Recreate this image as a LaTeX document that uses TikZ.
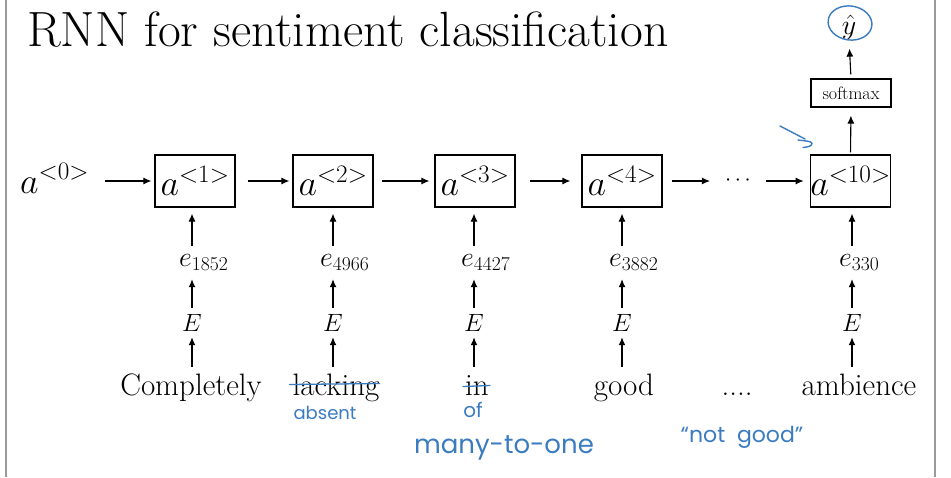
\RequirePackage{fix-cm}
\documentclass[tikz,border=0pt]{standalone}
\usepackage{fontspec}
\newfontfamily\handfont{Poppins}
\usetikzlibrary{arrows.meta}
\definecolor{ink}{HTML}{3B7CC0}
\definecolor{frameline}{HTML}{9A9A9A}

\begin{document}
\begin{tikzpicture}[x=1pt,y=1pt,
  arr/.style={-{Latex[length=8pt,width=7pt]}, line width=1.1pt},
  cell/.style={draw, line width=1.2pt, minimum width=80pt, minimum height=52pt, inner sep=0pt},
  emb/.style={font=\fontsize{28}{32}\selectfont, inner sep=0pt, anchor=base west, text height=12pt, text depth=7pt},
  mat/.style={font=\fontsize{25}{29}\selectfont, inner sep=0pt},
  word/.style={font=\fontsize{31}{35}\selectfont, inner sep=0pt, anchor=base, text height=21pt, text depth=6pt},
  hand/.style={text=ink, font=\handfont\fontsize{18}{22}\selectfont, inner sep=0pt},
  stroke/.style={draw=ink, line width=1.4pt, line cap=round, line join=round}]

% canvas and slide edges
\fill[white] (0,0) rectangle (951,-477);
\useasboundingbox (0,0) rectangle (951,-477);
\draw[frameline, line width=2pt] (6,0) -- (6,-477);
\draw[frameline, line width=2pt] (935,0) -- (935,-477);

% title
\node[anchor=base west, inner sep=0pt, font=\fontsize{49.5}{54}\selectfont] (title) at (27,-46) {RNN for sentiment classification};

% recurrent cells
\node[anchor=base west, inner sep=0pt, font=\fontsize{36}{40}\selectfont] (a0) at (20,-193) {$a^{<0>}$};
\foreach \n/\x in {1/195,2/333,3/475,4/622,10/850.5}
  \node[cell] (b\n) at (\x,-181) {\fontsize{36}{40}\selectfont$a^{<\n>}$};
\node[inner sep=0pt, font=\fontsize{22}{26}\selectfont] (dots) at (738,-181) {$\cdots$};

\draw[arr, shorten <=16pt, shorten >=3pt] (a0.east |- b1.west) -- (b1.west);
\draw[arr, shorten <=12pt, shorten >=3pt] (b1.east) -- (b2.west);
\draw[arr, shorten <=8pt, shorten >=5pt] (b2.east) -- (b3.west);
\draw[arr, shorten <=14pt, shorten >=11pt] (b3.east) -- (b4.west);
\draw[arr, shorten <=9pt, shorten >=15pt] (b4.east) -- (dots.west |- b4.east);
\draw[arr, shorten <=15pt, shorten >=6pt] (dots.east |- b10.west) -- (b10.west);

% inputs: word -> E -> embedding -> cell
\foreach \n/\c/\s/\w/\wx in {1/192/1852/Completely/191, 2/333/4966/lacking/336, 3/474/4427/in/477, 4/622/3882/good/624, 10/852/330/ambience/859} {
  \node[mat] (E\n) at (\c,-322.5) {$E$};
  \node[emb] (e\n) at (\c-13,-266) {$e_{\s}$};
  \node[word] (w\n) at (\wx,-395) {\w};
  \draw[arr, shorten <=7pt, shorten >=6pt] (w\n.north -| E\n) -- (E\n.south);
  \draw[arr, shorten <=6pt, shorten >=6pt] (E\n.north) -- (e\n.south -| E\n);
  \draw[arr, shorten <=8pt, shorten >=6pt] (e\n.north -| E\n) -- (b\n.south -| E\n);
}
\node[word] (wd) at (737,-395) {....};

% output
\node[draw, line width=1.2pt, minimum width=80pt, minimum height=28pt, inner sep=0pt,
      font=\fontsize{18}{22}\selectfont] (sm) at (851,-93) {softmax};
\node[inner sep=0pt, font=\fontsize{28}{32}\selectfont] (yhat) at (849,-27) {$\hat{y}$};
\draw[arr, shorten <=2pt, shorten >=8pt] (b10.north) -- (sm.south);
\draw[arr, shorten <=4pt, shorten >=9pt] (sm.north) -- (yhat.south);

% hand annotations
\draw[stroke] (850,-23) ellipse [x radius=22, y radius=17, rotate=-8];
\draw[stroke] (780,-126) -- (805,-139);
\draw[stroke] (798,-140) .. controls (805,-141) and (812,-141) .. (812,-143.5) .. controls (812,-146) and (808,-147) .. (803,-147.5);
\draw[stroke, line width=1.3pt] ([xshift=-3pt,yshift=3pt]w2.west) -- ([yshift=4pt]w2.east);
\draw[stroke, line width=1.3pt] ([xshift=-2pt,yshift=1pt]w3.west) -- ([xshift=1pt,yshift=2pt]w3.east);
\node[hand] (absent) at (325,-413) {absent};
\node[hand, font=\handfont\fontsize{20}{24}\selectfont] (of) at (473,-410) {of};
\node[hand, font=\handfont\fontsize{26}{30}\selectfont] (mto) at (504,-448) {many-to-one};
\node[hand, font=\handfont\fontsize{22}{26}\selectfont] (ng) at (742,-437) {“not\ \ good”};
\end{tikzpicture}
\end{document}
